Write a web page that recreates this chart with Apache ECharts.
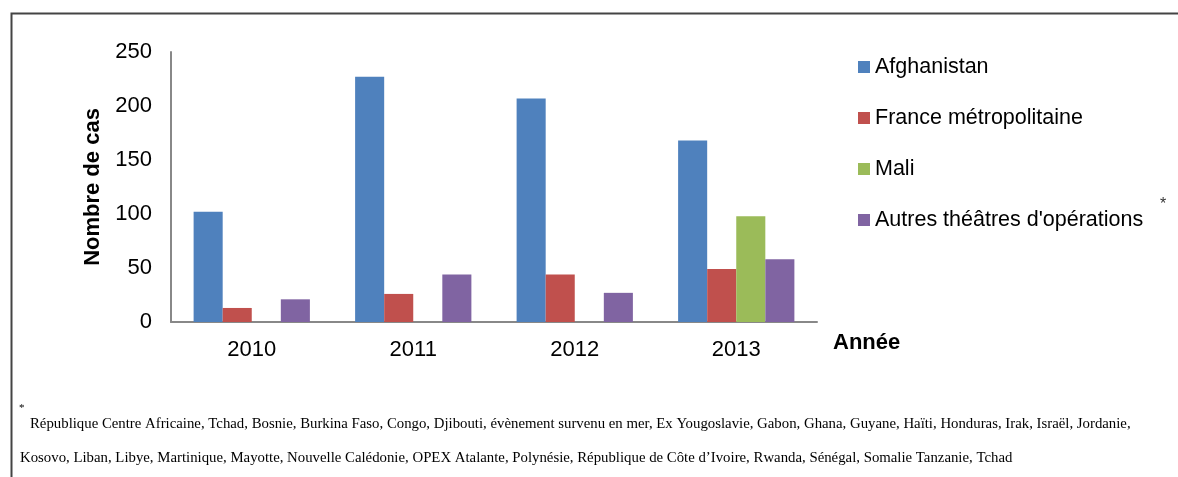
<!DOCTYPE html>
<html>
<head>
<meta charset="utf-8">
<script src="https://cdn.jsdelivr.net/npm/echarts@6/dist/echarts.min.js"></script>
<style>
html,body{margin:0;padding:0;background:#fff;}
#chart{width:1178px;height:477px;}
</style>
</head>
<body>
<div id="chart"></div>
<script>
const categories = ['2010', '2011', '2012', '2013'];
const afghanistan = [102, 227, 207, 168];
const franceMetro = [13, 26, 44, 49];
const mali = ['-', '-', '-', 98];
const autres = [21, 44, 27, 58];
const seriesNames = ['Afghanistan', 'France métropolitaine', 'Mali', "Autres théâtres d'opérations"];
const yTicks = [0, 50, 100, 150, 200, 250];
const footnoteLine1 = 'République Centre Africaine, Tchad, Bosnie, Burkina Faso, Congo, Djibouti, évènement survenu en mer, Ex Yougoslavie, Gabon, Ghana, Guyane, Haïti, Honduras, Irak, Israël, Jordanie,';
const footnoteLine2 = 'Kosovo, Liban, Libye, Martinique, Mayotte, Nouvelle Calédonie, OPEX Atalante, Polynésie, République de Côte d\u2019Ivoire, Rwanda, Sénégal, Somalie Tanzanie, Tchad';

const colors = ['#4F81BD', '#C0504D', '#9BBB59', '#8064A2'];
const sans = '"Liberation Sans", Arial, sans-serif';
const serif = '"Liberation Serif", "Times New Roman", serif';

const chart = echarts.init(document.getElementById('chart'));
const dataSets = [afghanistan, franceMetro, mali, autres];

chart.setOption({
  animation: false,
  color: colors,
  grid: { left: 171, right: 361, top: 52, bottom: 155, containLabel: false },
  legend: {
    orient: 'vertical',
    left: 853,
    top: 51,
    itemWidth: 12,
    itemHeight: 12,
    itemGap: 29,
    icon: 'rect',
    textStyle: { fontFamily: sans, fontSize: 21.5, color: '#000' },
    data: seriesNames
  },
  xAxis: {
    type: 'category',
    data: categories,
    axisLine: { lineStyle: { color: '#888', width: 2 } },
    axisTick: { show: false },
    axisLabel: { fontFamily: sans, fontSize: 22, color: '#000', margin: 17 },
    name: 'Année',
    nameLocation: 'end',
    nameGap: 16,
    nameTextStyle: { fontFamily: sans, fontSize: 22, fontWeight: 'bold', color: '#000', align: 'left', verticalAlign: 'top', padding: [10, 0, 0, 0] }
  },
  yAxis: {
    type: 'value',
    min: yTicks[0],
    max: yTicks[yTicks.length - 1],
    interval: yTicks[1] - yTicks[0],
    axisLine: { show: true, lineStyle: { color: '#888', width: 2 } },
    axisTick: { show: false },
    splitLine: { show: false },
    axisLabel: { fontFamily: sans, fontSize: 22, color: '#000', margin: 19 },
    name: 'Nombre de cas',
    nameLocation: 'middle',
    nameGap: 60,
    nameRotate: 90,
    nameTextStyle: { fontFamily: sans, fontSize: 22, fontWeight: 'bold', color: '#000' }
  },
  series: seriesNames.map((n, i) => ({
    name: n,
    type: 'bar',
    data: dataSets[i],
    barGap: '0%',
    barCategoryGap: '28%',
    itemStyle: { color: colors[i] }
  })),
  graphic: [
    { type: 'rect', left: 9, top: 11, shape: { x: 0, y: 0, width: 1250, height: 520 }, style: { fill: 'none', stroke: '#444', lineWidth: 2 }, silent: true },
    { type: 'text', left: 1160, top: 197, style: { text: '*', font: '16px ' + sans, fill: '#333' } },
    { type: 'text', left: 19, top: 403, style: { text: '*', font: '11px ' + serif, fill: '#000' } },
    { type: 'text', left: 30, top: 417, style: { text: footnoteLine1, font: '14.8px ' + serif, fill: '#000' } },
    { type: 'text', left: 20, top: 451, style: { text: footnoteLine2, font: '14.8px ' + serif, fill: '#000' } }
  ]
});
</script>
</body>
</html>
